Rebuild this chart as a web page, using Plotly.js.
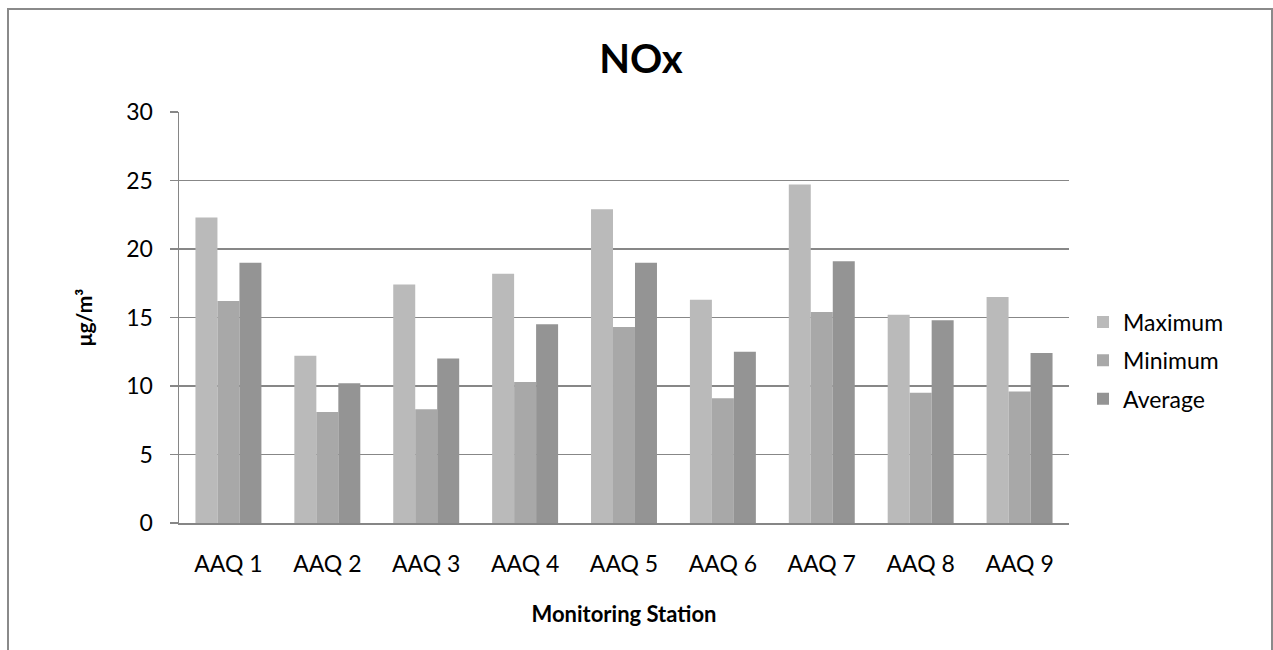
<!DOCTYPE html>
<html>
<head>
<meta charset="utf-8">
<script src="https://cdn.plot.ly/plotly-3.0.1.min.js"></script>
<style>
html,body{margin:0;padding:0;background:#fff;}
#chart{width:1273px;height:650px;}
</style>
</head>
<body>
<div id="chart"></div>
<script>
const categories = ["AAQ 1","AAQ 2","AAQ 3","AAQ 4","AAQ 5","AAQ 6","AAQ 7","AAQ 8","AAQ 9"];
const maximum = [22.3, 12.2, 17.4, 18.2, 22.9, 16.3, 24.7, 15.2, 16.5];
const minimum = [16.2, 8.1, 8.3, 10.3, 14.3, 9.1, 15.4, 9.5, 9.6];
const average = [19.0, 10.2, 12.0, 14.5, 19.0, 12.5, 19.1, 14.8, 12.4];
const seriesNames = ["Maximum","Minimum","Average"];
const yTicks = [0,5,10,15,20,25,30];

const FONT = "Lato, 'Open Sans', sans-serif";
const colors = ["#BABABA","#A8A8A8","#949494"];
const seriesValues = [maximum, minimum, average];

const traces = seriesValues.map((vals, i) => ({
  type: "bar",
  name: seriesNames[i],
  x: categories,
  y: vals,
  legendgroup: "g" + i,
  marker: {color: colors[i], line: {width: 0}},
  hoverinfo: "x+y+name"
}));

const layout = {
  width: 1273,
  height: 650,
  paper_bgcolor: "#ffffff",
  plot_bgcolor: "#ffffff",
  margin: {l: 179, r: 204, t: 112, b: 127, pad: 0},
  font: {family: FONT, size: 23, color: "#000000"},
  title: {
    text: "<b>NOx</b>",
    font: {family: FONT, size: 40, color: "#000000"},
    xref: "container", x: 0.5035, xanchor: "center",
    yref: "container", y: 1 - 59/650, yanchor: "middle"
  },
  barmode: "group",
  bargap: 0.333,
  bargroupgap: 0,
  xaxis: {
    type: "category",
    showgrid: false,
    showline: true,
    linecolor: "#868686",
    linewidth: 1.5,
    ticks: "",
    ticklabelstandoff: 20,
    tickfont: {family: FONT, size: 23, color: "#000000"},
    title: {text: "<b>Monitoring Station</b>", font: {family: FONT, size: 22, color: "#000000"}, standoff: 30},
    automargin: false,
    fixedrange: true
  },
  yaxis: {
    range: [0, 30],
    tickvals: yTicks,
    ticktext: yTicks.map(String),
    showgrid: true,
    gridcolor: "#878787",
    gridwidth: 1.5,
    zeroline: false,
    showline: true,
    linecolor: "#868686",
    linewidth: 1.5,
    ticks: "outside",
    ticklen: 8,
    tickwidth: 1.5,
    tickcolor: "#878787",
    ticklabelstandoff: 12,
    tickfont: {family: FONT, size: 23, color: "#000000"},
    title: {text: "<b>μg/m³</b>", font: {family: FONT, size: 21, color: "#000000"}, standoff: 28},
    automargin: false,
    fixedrange: true
  },
  showlegend: true,
  legend: {
    x: (1083 - 179) / 890, xanchor: "left",
    y: (523 - 360.5) / 411, yanchor: "middle",
    traceorder: "grouped",
    tracegroupgap: 5.5,
    bgcolor: "rgba(0,0,0,0)",
    borderwidth: 0,
    font: {family: FONT, size: 23, color: "#000000"}
  },
  shapes: [{
    type: "rect", xref: "paper", yref: "paper",
    x0: (8 - 179) / 890, x1: (1272 - 179) / 890,
    y0: (523 - 680) / 411, y1: (523 - 9) / 411,
    line: {color: "#8a8a8a", width: 2},
    fillcolor: "rgba(0,0,0,0)",
    layer: "below"
  }]
};

Plotly.newPlot("chart", traces, layout, {displayModeBar: false, staticPlot: true});
</script>
</body>
</html>
